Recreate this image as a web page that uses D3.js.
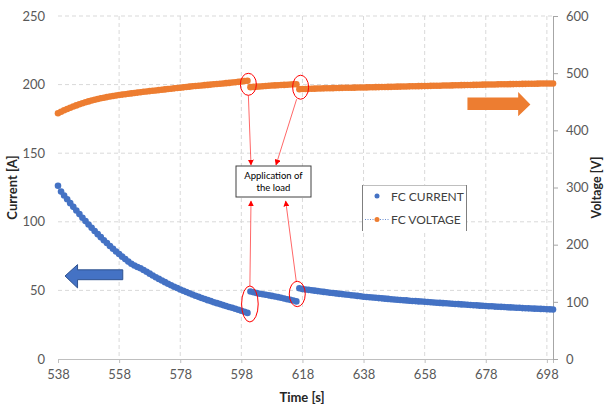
<!DOCTYPE html>
<html>
<head>
<meta charset="utf-8">
<script src="https://cdn.jsdelivr.net/npm/d3@7"></script>
<style>
  html, body { margin: 0; padding: 0; background: #fff; }
  svg { display: block; font-family: Lato, "Open Sans", sans-serif; }
</style>
</head>
<body>
<svg id="chart" width="604" height="405"></svg>
<script>
// Sample times [s], one reading per second
const sampleTimes = [
  538,539,540,541,542,543,544,545,546,547,548,549,550,551,552,553,554,555,556,557,
  558,559,560,561,562,563,564,565,566,567,568,569,570,571,572,573,574,575,576,577,
  578,579,580,581,582,583,584,585,586,587,588,589,590,591,592,593,594,595,596,597,
  598,599,600,601,602,603,604,605,606,607,608,609,610,611,612,613,614,615,616,617,
  618,619,620,621,622,623,624,625,626,627,628,629,630,631,632,633,634,635,636,637,
  638,639,640,641,642,643,644,645,646,647,648,649,650,651,652,653,654,655,656,657,
  658,659,660,661,662,663,664,665,666,667,668,669,670,671,672,673,674,675,676,677,
  678,679,680,681,682,683,684,685,686,687,688,689,690,691,692,693,694,695,696,697,
  698,699,700
];

// Fuel cell current [A]
const fcCurrent = [
  126.3,122.0,119.2,116.4,113.6,110.9,108.2,105.6,103.0,100.5,98.0,95.6,93.3,91.0,88.8,86.6,84.5,82.4,80.4,78.4,
  76.5,74.6,72.8,71.0,69.4,68.1,67.1,66.1,64.9,63.6,62.2,60.9,59.6,58.4,57.2,56.0,54.9,53.8,52.7,51.7,
  50.7,49.7,48.8,47.9,47.0,46.1,45.3,44.5,43.7,42.9,42.2,41.4,40.7,40.0,39.3,38.6,37.9,37.3,36.6,35.9,
  35.2,34.4,33.6,49.2,48.6,48.1,47.6,47.2,46.8,46.4,46.0,45.6,45.1,44.6,44.1,43.6,43.1,42.6,42.0,51.6,
  51.0,50.7,50.4,50.1,49.8,49.5,49.2,48.9,48.6,48.3,48.1,47.8,47.5,47.3,47.0,46.8,46.5,46.3,46.0,45.7,
  45.4,45.2,45.0,44.8,44.6,44.4,44.2,44.0,43.8,43.6,43.4,43.2,43.0,42.8,42.7,42.5,42.3,42.2,42.0,41.9,
  41.7,41.5,41.4,41.2,41.0,40.9,40.7,40.6,40.4,40.3,40.1,40.0,39.8,39.7,39.5,39.4,39.2,39.1,38.9,38.8,
  38.6,38.5,38.4,38.2,38.1,38.0,37.9,37.7,37.6,37.5,37.4,37.3,37.1,37.0,36.9,36.8,36.7,36.6,36.5,36.4,
  36.3,36.2,36.1
];

// Fuel cell voltage [V]
const fcVoltage = [
  430.0,432.5,435.0,437.3,439.5,441.6,443.6,445.5,447.3,449.0,450.6,452.1,453.5,454.8,456.0,457.1,458.1,459.1,460.0,460.9,
  461.8,462.5,463.2,463.9,464.6,465.3,466.0,466.7,467.4,468.0,468.6,469.2,469.8,470.4,471.0,471.6,472.2,472.8,473.4,474.0,
  474.6,475.2,475.8,476.4,477.0,477.5,478.0,478.5,479.0,479.5,480.0,480.5,481.0,481.5,482.0,482.5,483.0,483.6,484.2,484.8,
  485.4,486.1,486.8,475.5,476.0,476.4,476.8,477.2,477.6,478.0,478.3,478.6,478.9,479.2,479.5,479.8,480.1,480.4,480.7,472.0,
  472.2,472.4,472.6,472.8,472.9,473.1,473.2,473.4,473.5,473.7,473.8,474.0,474.1,474.3,474.4,474.5,474.6,474.7,474.8,474.9,
  475.0,475.1,475.3,475.4,475.5,475.6,475.8,475.9,476.0,476.1,476.3,476.4,476.5,476.6,476.8,476.9,477.0,477.1,477.3,477.4,
  477.5,477.6,477.8,477.9,478.0,478.1,478.3,478.4,478.5,478.6,478.8,478.9,479.0,479.1,479.3,479.4,479.5,479.6,479.8,479.9,
  480.0,480.1,480.2,480.3,480.4,480.5,480.6,480.7,480.8,480.9,481.0,481.1,481.2,481.3,481.4,481.5,481.6,481.7,481.8,481.8,
  481.9,481.9,482.0
];

// Axis ticks
const timeTicks = [538, 558, 578, 598, 618, 638, 658, 678, 698];
const currentTicks = [0, 50, 100, 150, 200, 250];
const voltageTicks = [0, 100, 200, 300, 400, 500, 600];

// Legend entries
const seriesNames = ["FC CURRENT", "FC VOLTAGE"];

const colCurrent = "#4472C4";
const colVoltage = "#ED7D31";
const colRed = "#FF0000";

const svg = d3.select("#chart");
const plot = { left: 58, right: 553, top: 16, bottom: 359 };

const x = d3.scaleLinear().domain([538, 700]).range([plot.left, plot.right]);
const yL = d3.scaleLinear().domain([0, 250]).range([plot.bottom, plot.top]);
const yR = d3.scaleLinear().domain([0, 600]).range([plot.bottom, plot.top]);

// Horizontal gridlines
svg.append("g").selectAll("line")
  .data(currentTicks.filter(d => d > 0))
  .join("line")
  .attr("x1", plot.left).attr("x2", plot.right)
  .attr("y1", d => yL(d)).attr("y2", d => yL(d))
  .attr("stroke", "#d9d9d9").attr("stroke-width", 1)
  .attr("stroke-dasharray", "4,3");

// Vertical gridlines
svg.append("g").selectAll("line")
  .data(timeTicks.filter(d => d > 538))
  .join("line")
  .attr("x1", d => x(d)).attr("x2", d => x(d))
  .attr("y1", plot.top).attr("y2", plot.bottom)
  .attr("stroke", "#d9d9d9").attr("stroke-width", 1)
  .attr("stroke-dasharray", "4,3");

// Bottom axis
const xAxis = d3.axisBottom(x).tickValues(timeTicks).tickSize(4).tickPadding(7).tickFormat(d3.format("d"));
const gx = svg.append("g").attr("transform", `translate(0,${plot.bottom})`).call(xAxis);
gx.select(".domain").attr("stroke", "#bfbfbf");
gx.selectAll(".tick line").attr("stroke", "#bfbfbf");
gx.selectAll(".tick text").attr("fill", "#595959").attr("font-size", 13).attr("font-family", "Lato, sans-serif");

// Left axis (labels only)
const yAxisL = d3.axisLeft(yL).tickValues(currentTicks).tickSize(0).tickPadding(13);
const gl = svg.append("g").attr("transform", `translate(${plot.left},0)`).call(yAxisL);
gl.select(".domain").remove();
gl.selectAll(".tick text").attr("fill", "#595959").attr("font-size", 13).attr("font-family", "Lato, sans-serif");

// Right axis
const yAxisR = d3.axisRight(yR).tickValues(voltageTicks).tickSize(5).tickPadding(8);
const gr = svg.append("g").attr("transform", `translate(${plot.right},0)`).call(yAxisR);
gr.select(".domain").attr("stroke", "#a6a6a6");
gr.selectAll(".tick line").attr("stroke", "#a6a6a6");
gr.selectAll(".tick text").attr("fill", "#595959").attr("font-size", 13).attr("font-family", "Lato, sans-serif");

// Axis titles
svg.append("text")
  .attr("transform", `translate(17,${(plot.top + plot.bottom) / 2}) rotate(-90)`)
  .attr("text-anchor", "middle").attr("font-weight", "bold").attr("font-size", 13)
  .attr("fill", "#262626").text("Current [A]");
svg.append("text")
  .attr("transform", `translate(601,${(plot.top + plot.bottom) / 2}) rotate(-90)`)
  .attr("text-anchor", "middle").attr("font-weight", "bold").attr("font-size", 12.5)
  .attr("fill", "#262626").text("Voltage [V]");
svg.append("text")
  .attr("x", 302).attr("y", 402)
  .attr("text-anchor", "middle").attr("font-weight", "bold").attr("font-size", 13)
  .attr("fill", "#262626").text("Time [s]");

// Direction arrows pointing to each series' axis
const blueArrow = [[540.3, 60.5], [544.4, 68.8], [544.4, 65], [559.2, 65], [559.2, 57.8], [544.4, 57.8], [544.4, 51.8]];
svg.append("path")
  .attr("d", d3.line()(blueArrow.map(p => [x(p[0]), yL(p[1])])) + "Z")
  .attr("fill", colCurrent).attr("stroke", "#2F528F").attr("stroke-width", 1);
const orangeArrow = [[672, 457.4], [688.6, 457.4], [688.6, 467.2], [692.6, 445.0], [688.6, 424.6], [688.6, 435.4], [672, 435.4]];
svg.append("path")
  .attr("d", d3.line()(orangeArrow.map(p => [x(p[0]), yR(p[1])])) + "Z")
  .attr("fill", colVoltage);

// Voltage series: dotted connector then markers
const voltagePts = sampleTimes.map((t, i) => [t, fcVoltage[i]]);
const currentPts = sampleTimes.map((t, i) => [t, fcCurrent[i]]);

svg.append("path")
  .attr("d", d3.line().x(d => x(d[0])).y(d => yR(d[1]))(voltagePts))
  .attr("fill", "none").attr("stroke", colCurrent).attr("stroke-width", 0.75)
  .attr("stroke-dasharray", "1,1.5");

svg.append("g").selectAll("circle")
  .data(voltagePts).join("circle")
  .attr("cx", d => x(d[0])).attr("cy", d => yR(d[1])).attr("r", 3.3)
  .attr("fill", colVoltage);

svg.append("g").selectAll("circle")
  .data(currentPts).join("circle")
  .attr("cx", d => x(d[0])).attr("cy", d => yL(d[1])).attr("r", 3.3)
  .attr("fill", colCurrent);

// Annotation: load application events
const defs = svg.append("defs");
defs.append("marker")
  .attr("id", "redHead").attr("viewBox", "0 0 10 10")
  .attr("refX", 9).attr("refY", 5)
  .attr("markerWidth", 6).attr("markerHeight", 6)
  .attr("markerUnits", "userSpaceOnUse")
  .attr("orient", "auto")
  .append("path").attr("d", "M0,0 L10,5 L0,10 Z").attr("fill", colRed);

const voltRings = [
  { t: 600.3, v: 480.5, rx: 8, ry: 11 },
  { t: 617.4, v: 475.4, rx: 8, ry: 12 }
];
const currRings = [
  { t: 600.8, v: 40.1, rx: 8.3, ry: 18 },
  { t: 616.3, v: 47.4, rx: 8, ry: 12.7 }
];

svg.append("g").selectAll("ellipse")
  .data(voltRings).join("ellipse")
  .attr("cx", d => x(d.t)).attr("cy", d => yR(d.v))
  .attr("rx", d => d.rx).attr("ry", d => d.ry)
  .attr("fill", "none").attr("stroke", colRed).attr("stroke-width", 1);
svg.append("g").selectAll("ellipse")
  .data(currRings).join("ellipse")
  .attr("cx", d => x(d.t)).attr("cy", d => yL(d.v))
  .attr("rx", d => d.rx).attr("ry", d => d.ry)
  .attr("fill", "none").attr("stroke", colRed).attr("stroke-width", 1);

// Label box
const box = { x0: 236, y0: 166, x1: 311, y1: 197 };
const arrowEnds = [
  { from: [x(voltRings[0].t), yR(voltRings[0].v) + voltRings[0].ry], to: [251, box.y0 - 1] },
  { from: [x(voltRings[1].t) - 4, yR(voltRings[1].v) + voltRings[1].ry], to: [276, box.y0 - 1] },
  { from: [x(currRings[0].t), yL(currRings[0].v) - currRings[0].ry], to: [251, box.y1 + 4] },
  { from: [x(currRings[1].t) - 1, yL(currRings[1].v) - currRings[1].ry], to: [285.7, box.y1 + 4] }
];
svg.append("g").selectAll("line")
  .data(arrowEnds).join("line")
  .attr("x1", d => d.from[0]).attr("y1", d => d.from[1])
  .attr("x2", d => d.to[0]).attr("y2", d => d.to[1])
  .attr("stroke", colRed).attr("stroke-opacity", 0.75).attr("stroke-width", 0.8)
  .attr("marker-end", "url(#redHead)");

svg.append("rect")
  .attr("x", box.x0).attr("y", box.y0)
  .attr("width", box.x1 - box.x0).attr("height", box.y1 - box.y0)
  .attr("fill", "#fff").attr("stroke", "#404040").attr("stroke-width", 1);
svg.append("text")
  .attr("x", (box.x0 + box.x1) / 2).attr("y", 179)
  .attr("text-anchor", "middle").attr("font-size", 9.5).attr("fill", "#000")
  .text("Application of");
svg.append("text")
  .attr("x", (box.x0 + box.x1) / 2).attr("y", 191)
  .attr("text-anchor", "middle").attr("font-size", 9.5).attr("fill", "#000")
  .text("the load");

// Legend
const lg = svg.append("g");
lg.append("rect").attr("x", 362).attr("y", 185).attr("width", 105).attr("height", 47).attr("fill", "#fff");
lg.append("line").attr("x1", 362).attr("x2", 467).attr("y1", 185.5).attr("y2", 185.5).attr("stroke", "#bfbfbf");
lg.append("line").attr("x1", 362.5).attr("x2", 362.5).attr("y1", 185).attr("y2", 231).attr("stroke", "#7f7f7f");
lg.append("line").attr("x1", 466.5).attr("x2", 466.5).attr("y1", 185).attr("y2", 231).attr("stroke", "#7f7f7f");

lg.append("circle").attr("cx", 377).attr("cy", 196).attr("r", 2.5).attr("fill", colCurrent);
lg.append("line").attr("x1", 365).attr("x2", 389).attr("y1", 219.5).attr("y2", 219.5)
  .attr("stroke", colCurrent).attr("stroke-width", 0.8).attr("stroke-dasharray", "1,1.5");
lg.append("circle").attr("cx", 377).attr("cy", 219.5).attr("r", 2.5).attr("fill", colVoltage);

lg.selectAll("text.lbl")
  .data(seriesNames).join("text")
  .attr("class", "lbl")
  .attr("x", 391).attr("y", (d, i) => 200.5 + i * 23.5)
  .attr("font-size", 12).attr("fill", "#404040")
  .text(d => d);
</script>
</body>
</html>
